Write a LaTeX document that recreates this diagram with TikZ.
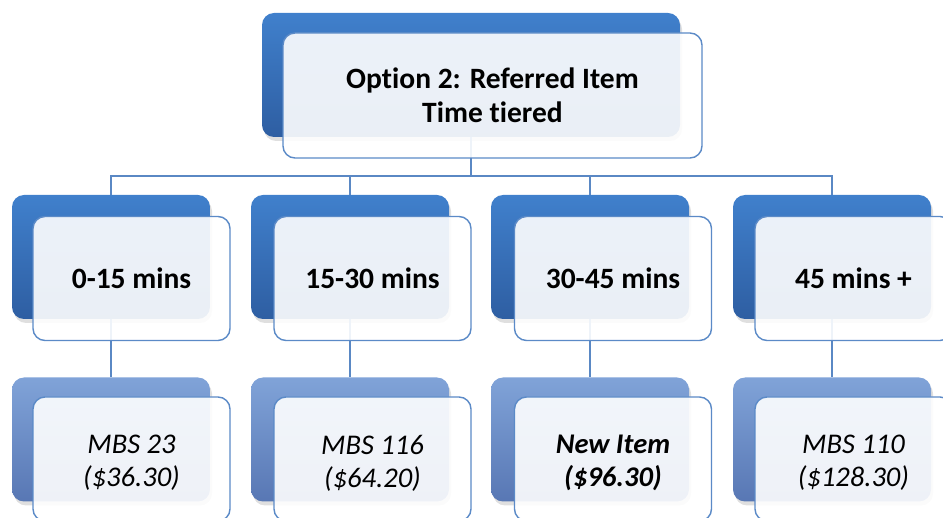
\documentclass[tikz,border=0pt]{standalone}
\usepackage{fontspec}
\setmainfont{Carlito}[RawFeature=-liga]
\usetikzlibrary{shadows}
\definecolor{darkTop}{HTML}{4080CC}
\definecolor{darkBot}{HTML}{2E5EA2}
\definecolor{lightTop}{HTML}{80A3D8}
\definecolor{lightBot}{HTML}{5877B4}
\definecolor{edgeBlue}{HTML}{5B8AC7}
\definecolor{connBlue}{HTML}{5A88C4}
\begin{document}
\begin{tikzpicture}[x=1pt,y=-1pt,
  backdark/.style={rounded corners=12pt, inner sep=0pt, minimum width=198pt, minimum height=124pt,
    top color=darkTop, bottom color=darkBot, shading angle=0,
    drop shadow={opacity=0.25, shadow xshift=2pt, shadow yshift=-4pt}},
  backlight/.style={backdark, top color=lightTop, bottom color=lightBot},
  frontbox/.style={rounded corners=12pt, inner sep=0pt, minimum width=197pt, minimum height=124pt,
    draw=edgeBlue, line width=1.4pt, fill=white, fill opacity=0.9, text opacity=1, align=center},
  headtxt/.style={font=\fontsize{29.5}{34}\selectfont\bfseries},
  itemtxt/.style={font=\fontsize{28.5}{33}\selectfont\itshape},
  conn/.style={draw=connBlue, line width=1.4pt}
]
\useasboundingbox (0,0) rectangle (943,518);
\clip (0,0) rectangle (943,518);
% back boxes
\node[backdark, minimum width=418pt] (tb) at (471,75) {};
\node[backdark] (b1) at (111,257) {};
\node[backdark] (b2) at (350,257) {};
\node[backdark] (b3) at (590,257) {};
\node[backdark] (b4) at (832,257) {};
\node[backlight] (c1) at (111,439.5) {};
\node[backlight] (c2) at (350,439.5) {};
\node[backlight] (c3) at (590,439.5) {};
\node[backlight] (c4) at (832,439.5) {};
% connectors
\coordinate (bus) at (471,176);
\draw[conn] (tb.south) -- (bus);
\draw[conn] (b1.north) |- (bus) -| (b4.north);
\draw[conn] (b2.north) -- (b2.north |- bus);
\draw[conn] (b3.north) -- (b3.north |- bus);
\draw[conn] (b1.south) -- (c1.north);
\draw[conn] (b2.south) -- (c2.north);
\draw[conn] (b3.south) -- (c3.north);
\draw[conn] (b4.south) -- (c4.north);
% front boxes
\node[frontbox, headtxt, minimum width=419pt, minimum height=125pt] (tf) at (492.5,95.5) {Option 2: Referred Item\\Time tiered};
\node[frontbox, headtxt] (f1) at (131.5,278.5) {0-15 mins};
\node[frontbox, headtxt] (f2) at (372.5,278.5) {15-30 mins};
\node[frontbox, headtxt] (f3) at (613,278.5) {30-45 mins};
\node[frontbox, headtxt] (f4) at (853.5,278.5) {45 mins +};
\node[frontbox, itemtxt] (g1) at (131.5,459) {};
\node[frontbox, itemtxt] (g2) at (372.5,459) {};
\node[frontbox, itemtxt] (g3) at (613,459) {};
\node[frontbox, itemtxt] (g4) at (853.5,459) {};
\node[itemtxt, align=center] at ([yshift=-4pt]g1.center) {MBS 23\\(\$36.30)};
\node[itemtxt, align=center] at ([yshift=-4pt]g2.center) {MBS 116\\(\$64.20)};
\node[itemtxt, align=center, font=\fontsize{28.5}{33}\selectfont\bfseries\itshape] at ([yshift=-4pt]g3.center) {New Item\\(\$96.30)};
\node[itemtxt, align=center] at ([yshift=-4pt]g4.center) {MBS 110\\(\$128.30)};
\end{tikzpicture}
\end{document}
